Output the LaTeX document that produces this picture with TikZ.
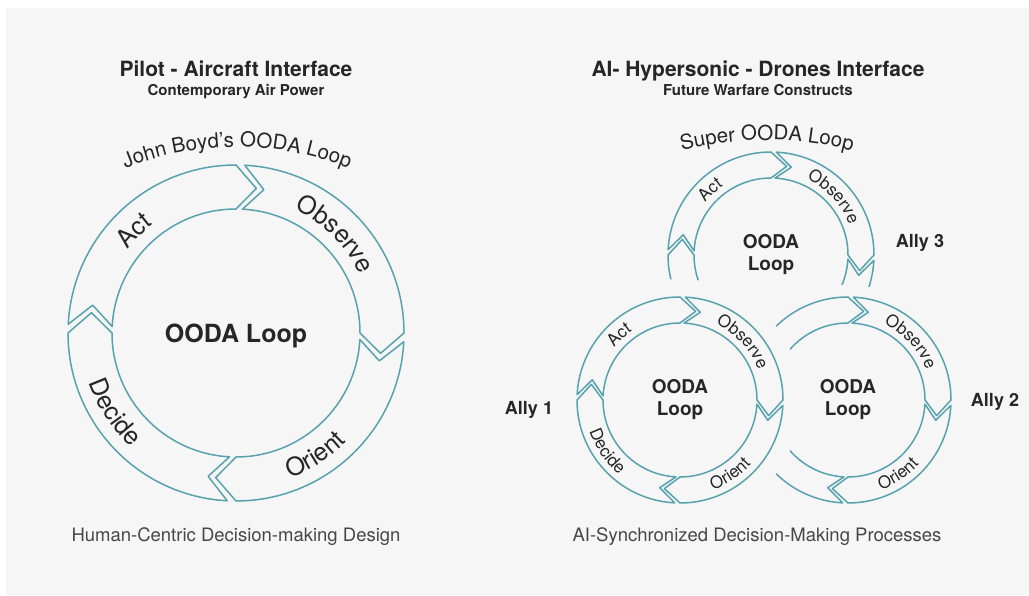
\documentclass[tikz,border=0pt]{standalone}
\usepackage{fontspec}
\setmainfont{TeX Gyre Heros}
\usepackage{tikz}
\usetikzlibrary{calc, decorations.text}

\definecolor{bandteal}{RGB}{88,162,174}
\definecolor{bggray}{RGB}{246,246,246}
\definecolor{ink}{RGB}{38,38,38}

\newcommand{\titlefont}{\fontsize{21}{25}\selectfont\bfseries}
\newcommand{\subfont}{\fontsize{15}{18}\selectfont\bfseries}
\newcommand{\capfont}{\fontsize{18.5}{22}\selectfont}
\newcommand{\arcfont}{\fontsize{20.5}{24}\selectfont}
\newcommand{\biglabel}{\fontsize{25}{30}\selectfont}
\newcommand{\smalllabel}{\fontsize{17}{20}\selectfont}
\newcommand{\bigcenter}{\fontsize{25}{30}\selectfont\bfseries}
\newcommand{\smallcenter}{\fontsize{19}{22}\selectfont\bfseries}
\newcommand{\allyfont}{\fontsize{18}{22}\selectfont\bfseries}

% one arrow piece of a loop: start angle, end angle, inner r, outer r, tip depth
\newcommand{\oodaseg}[5]{%
  \draw[band] (#1:#4) arc[start angle=#1, end angle=#2, radius=#4]
    -- ({#2-#5}:{(#3+#4)/2}) -- (#2:#3)
    arc[start angle=#2, end angle=#1, radius=#3]
    -- ({#1-#5}:{(#3+#4)/2}) -- cycle;}
% text bent along an arc: from angle, to angle, radius, font, text
\newcommand{\arclabel}[5]{%
  \path[decorate, decoration={text along path, text align=center,
      text={|#4\color{ink}|#5}}]
    (#1:#3) arc[start angle=#1, end angle=#2, radius=#3];}

\begin{document}
\begin{tikzpicture}[x=1pt, y=1pt,
    band/.style={draw=bandteal, line width=1.5pt, line join=round},
    halo/.style={fill=bggray}]
  \useasboundingbox (0,0) rectangle (1029,595);
  \fill[white] (0,0) rectangle (1029,595);
  \fill[bggray] (6,0) rectangle (1029,587);

  \coordinate (big) at (236,262);
  \coordinate (top) at (771,340);
  \coordinate (allyA) at (680,195);
  \coordinate (allyB) at (848,195);

  % Pilot - Aircraft side
  \node[anchor=base, font=\titlefont, text=ink] (lefttitle) at (236,518) {Pilot - Aircraft Interface};
  \node[anchor=base, font=\subfont, text=ink] (leftsub) at (236,499) {Contemporary Air Power};
  \path[decorate, decoration={text along path, text align=center,
      text={|\arcfont\color{ink}|John Boyd's OODA Loop}}]
    (237,150) ++(125:298) arc[start angle=125, end angle=55, radius=298];
  \begin{scope}[shift={(big)}]
    \foreach \s/\e in {87/0, -3/-90, -93/-180, 177/90}
      {\oodaseg{\s}{\e}{124}{168}{8}}
    \arclabel{175}{95}{137}{\biglabel}{Act}
    \arclabel{85}{5}{137}{\biglabel}{Observe}
    \arclabel{-97}{-17}{155}{\biglabel}{Orient}
    \arclabel{173}{253}{155}{\biglabel}{Decide}
  \end{scope}
  \node[anchor=base, font=\bigcenter, text=ink] (bigloop) at (236,252) {OODA Loop};
  \node[anchor=base, font=\capfont, text=ink!85] (leftcap) at (236,53) {Human-Centric Decision-making Design};

  % AI - Hypersonic - Drones side
  \node[anchor=base, font=\titlefont, text=ink] (righttitle) at (758,518) {AI- Hypersonic - Drones Interface};
  \node[anchor=base, font=\subfont, text=ink] (rightsub) at (758,499) {Future Warfare Constructs};
  \path[decorate, decoration={text along path, text align=center,
      text={|\arcfont\color{ink}|Super OODA Loop}}]
    (767,115) ++(110:340) arc[start angle=110, end angle=70, radius=340];
  % Ally 3
  \begin{scope}[shift={(top)}]
    \foreach \s/\e in {87/0, -3/-90, -93/-180, 177/90}
      {\oodaseg{\s}{\e}{77}{103}{10}}
    \arclabel{173}{93}{84}{\smalllabel}{Act}
    \arclabel{83}{3}{84}{\smalllabel}{Observe}
  \end{scope}
  % Ally 2
  \fill[halo] (allyB) circle[radius=115];
  \begin{scope}[shift={(allyB)}]
    \foreach \s/\e in {87/0, -3/-90, -93/-180, 177/90}
      {\oodaseg{\s}{\e}{77}{103}{10}}
    \arclabel{83}{3}{84}{\smalllabel}{Observe}
    \arclabel{-96}{-16}{96}{\smalllabel}{Orient}
  \end{scope}
  % Ally 1
  \fill[halo] (allyA) circle[radius=121];
  \begin{scope}[shift={(allyA)}]
    \foreach \s/\e in {87/0, -3/-90, -93/-180, 177/90}
      {\oodaseg{\s}{\e}{77}{103}{10}}
    \arclabel{173}{93}{84}{\smalllabel}{Act}
    \arclabel{83}{3}{84}{\smalllabel}{Observe}
    \arclabel{-96}{-16}{96}{\smalllabel}{Orient}
    \arclabel{175}{255}{96}{\smalllabel}{Decide}
  \end{scope}
  \node[align=center, font=\smallcenter, text=ink] (loopC) at (top) {OODA\\Loop};
  \node[align=center, font=\smallcenter, text=ink] (loopB) at (allyB) {OODA\\Loop};
  \node[align=center, font=\smallcenter, text=ink] (loopA) at (allyA) {OODA\\Loop};
  \node[anchor=base, font=\allyfont, text=ink] (ally1) at (529,180) {Ally 1};
  \node[anchor=base, font=\allyfont, text=ink] (ally2) at (995,188) {Ally 2};
  \node[anchor=base, font=\allyfont, text=ink] (ally3) at (920,347) {Ally 3};
  \node[anchor=base, font=\capfont, text=ink!85] (rightcap) at (757,53) {AI-Synchronized Decision-Making Processes};
\end{tikzpicture}
\end{document}
